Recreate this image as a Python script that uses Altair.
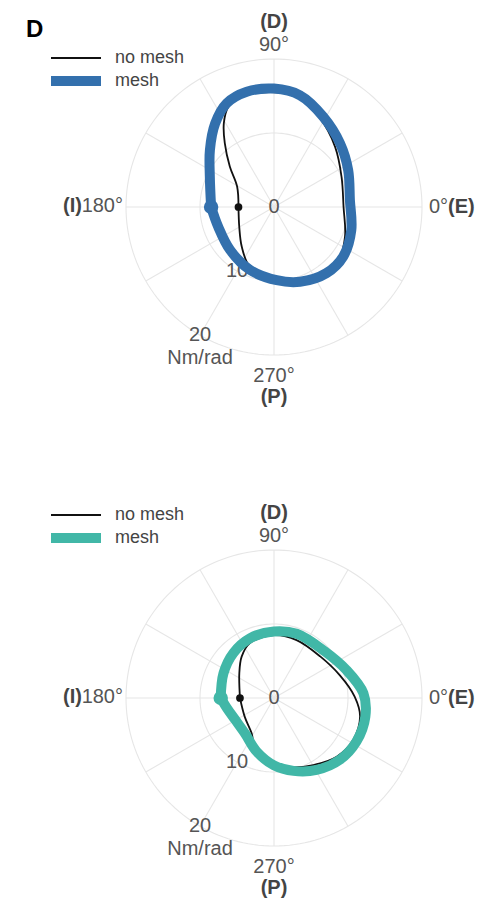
import altair as alt
import pandas as pd

# Ankle stiffness loops: angle (deg, counter-clockwise from E) and stiffness (Nm/rad)
TOP_NOMESH_DEG = [180, 151, 137.5, 127.6, 120.9, 114.5, 107, 98.6, 88.7, 78.4, 62.6, 44.7,
                  24.1, 0, -22.7, -39.5, -57, -77.4, -96.2, -113, -129.2, -150.4]
TOP_NOMESH_K = [4.8, 5.7, 8.1, 10.9, 13.2, 14.9, 15.7, 15.6, 15.5, 15.2, 13.5, 11.6,
                10.0, 9.4, 10.4, 11.3, 10.9, 10.0, 9.3, 8.6, 6.9, 5.4]
TOP_MESH_DEG = [180, 154.6, 138.3, 125.2, 114.5, 103.3, 90, 76.9, 61.4, 44, 26.5, 5.3,
                -16.6, -35.6, -51.6, -70.8, -87.9, -110.9, -135.7, -160.5]
TOP_MESH_K = [8.5, 9.6, 11.6, 13.8, 15.4, 16.0, 16.0, 15.5, 13.9, 12.4, 11.2, 10.3,
              10.9, 11.5, 11.4, 10.7, 9.9, 9.1, 8.3, 8.0]

BOT_NOMESH_DEG = [180, 144.6, 128, 113.7, 90, 68.7, 42, 19.2, 1, -12.2, -27.9, -43.1,
                  -59.6, -76.9, -93.6, -110, -122.3, -147.2]
BOT_NOMESH_K = [4.6, 5.75, 7.1, 8.1, 8.5, 8.4, 8.4, 9.4, 10.9, 11.9, 12.1, 11.6,
                10.5, 9.6, 8.7, 7.4, 5.65, 4.7]
BOT_MESH_DEG = [180, 154, 132, 112, 90, 70.5, 43, 21, 3, -11.6, -27.8, -43.2,
                -59.4, -75, -90, -108, -129, -150, -167.7]
BOT_MESH_K = [7.2, 7.6, 8.2, 8.7, 9.0, 9.2, 9.3, 10.5, 12.1, 12.6, 12.6, 12.2,
              11.3, 10.2, 9.1, 7.6, 6.2, 6.0, 6.5]

SERIES = ["no mesh", "mesh"]
TOP_COLORS = ["#111111", "#3370ad"]
BOT_COLORS = ["#111111", "#41b7a7"]

RING_VALUES = [10, 20]
RING_LABELS = ["0", "10", "20"]
RING_LABEL_R = [0, 10, 20]
SPOKE_DEG = list(range(0, 360, 30))
R_MAX = 20

# layout (pixels)
PX = 7.4          # pixels per Nm/rad
W = 500
CX = 274
TOP_H, TOP_CY = 425, 207
BOT_H, BOT_CY = 482, 273

FONT = "Liberation Sans"
GREY = "#555555"
DARK = "#444444"

XY = {"x": "datum.k * cos(datum.deg * PI / 180)",
      "y": "datum.k * sin(datum.deg * PI / 180)"}


def loop_frame(nm_deg, nm_k, m_deg, m_k):
    rows = []
    for name, deg, k in (("no mesh", nm_deg, nm_k), ("mesh", m_deg, m_k)):
        pts = [{"series": name, "i": i, "deg": d, "k": v}
               for i, (d, v) in enumerate(zip(deg, k))]
        pts.append({**pts[0], "i": len(pts)})  # close the loop
        rows += pts
    return pd.DataFrame(rows)


ring_df = pd.DataFrame([{"ring": r, "deg": d, "k": r}
                        for r in RING_VALUES for d in range(0, 361, 2)])
spoke_df = pd.DataFrame({"deg": SPOKE_DEG, "k": [R_MAX] * len(SPOKE_DEG)})
rlab_df = pd.DataFrame({"label": RING_LABELS, "k": RING_LABEL_R,
                        "deg": [240] * len(RING_LABELS)})


def panel(nm_deg, nm_k, m_deg, m_k, colors, height, cy, legend_y, tag=None):
    xs = alt.Scale(domain=[-CX / PX, (W - CX) / PX], nice=False, zero=False)
    ys = alt.Scale(domain=[-(height - cy) / PX, cy / PX], nice=False, zero=False)
    X = lambda f: alt.X(f, scale=xs, axis=None)
    Y = lambda f: alt.Y(f, scale=ys, axis=None)

    rings = alt.Chart(ring_df).transform_calculate(**XY).mark_line(
        color="#e6e6e6", strokeWidth=1.1
    ).encode(x=X("x:Q"), y=Y("y:Q"), detail="ring:N", order="deg:Q")

    spokes = alt.Chart(spoke_df).transform_calculate(
        x0="0", y0="0", **XY
    ).mark_rule(color="#e6e6e6", strokeWidth=1.1).encode(
        x=X("x0:Q"), y=Y("y0:Q"), x2="x:Q", y2="y:Q")

    rlabels = alt.Chart(rlab_df).transform_calculate(**XY).mark_text(
        font=FONT, fontSize=20, color=GREY, baseline="middle"
    ).encode(x=X("x:Q"), y=Y("y:Q"), text="label:N")

    unit = alt.Chart(rlab_df.iloc[[2]].assign(u="Nm/rad")).transform_calculate(**XY).mark_text(
        font=FONT, fontSize=20, color=GREY, baseline="middle", dy=23
    ).encode(x=X("x:Q"), y=Y("y:Q"), text="u:N")

    def dir_label(deg, text, bold, align, dx, dy):
        df = pd.DataFrame({"deg": [deg], "k": [R_MAX], "t": [text]})
        return alt.Chart(df).transform_calculate(**XY).mark_text(
            font=FONT, fontSize=20, color=DARK if bold else GREY,
            fontWeight="bold" if bold else "normal",
            align=align, baseline="middle", dx=dx, dy=dy
        ).encode(x=X("x:Q"), y=Y("y:Q"), text="t:N")

    dirs = [
        dir_label(0, "0°", False, "left", 7, 0),
        dir_label(0, "(E)", True, "left", 26, 0),
        dir_label(180, "180°", False, "right", -3, -1),
        dir_label(180, "(I)", True, "right", -44, -1),
        dir_label(90, "90°", False, "center", 0, -14),
        dir_label(90, "(D)", True, "center", 0, -37),
        dir_label(270, "270°", False, "center", 0, 21),
        dir_label(270, "(P)", True, "center", 0, 42),
    ]

    loops = loop_frame(nm_deg, nm_k, m_deg, m_k)
    legend = alt.Legend(
        title=None, orient="none", legendX=66, legendY=legend_y,
        symbolType="M-5,0H5", symbolSize=100, labelFont=FONT, labelFontSize=18,
        labelColor=DARK, labelOffset=29, rowPadding=-6, padding=0,
    )
    enc = dict(
        x=X("x:Q"), y=Y("y:Q"), order="i:Q",
        color=alt.Color("series:N", scale=alt.Scale(domain=SERIES, range=colors),
                        legend=legend),
        strokeWidth=alt.StrokeWidth("series:N",
                                    scale=alt.Scale(domain=SERIES, range=[1.8, 10]),
                                    legend=legend),
    )
    base = alt.Chart(loops).transform_calculate(**XY)
    line_nm = base.transform_filter("datum.series == 'no mesh'").mark_line(
        interpolate="catmull-rom", strokeJoin="round", strokeCap="round").encode(**enc)
    line_m = base.transform_filter("datum.series == 'mesh'").mark_line(
        interpolate="catmull-rom", strokeJoin="round", strokeCap="round").encode(**enc)

    dot_m = base.transform_filter("datum.series == 'mesh' && datum.i == 0").mark_circle(
        color=colors[1], opacity=1, size=210).encode(x=X("x:Q"), y=Y("y:Q"))
    dot_nm = base.transform_filter("datum.series == 'no mesh' && datum.i == 0").mark_circle(
        color=colors[0], opacity=1, size=60).encode(x=X("x:Q"), y=Y("y:Q"))

    layers = [rings, spokes, rlabels, unit, *dirs, line_nm, line_m, dot_m, dot_nm]
    if tag:
        layers.append(
            alt.Chart(pd.DataFrame({"t": [tag]})).mark_text(
                font=FONT, fontSize=24, fontWeight="bold", color="#000000",
                align="left", baseline="alphabetic"
            ).encode(text="t:N", x=alt.value(26), y=alt.value(37))
        )
    return alt.layer(*layers).properties(width=W, height=height)


top = panel(TOP_NOMESH_DEG, TOP_NOMESH_K, TOP_MESH_DEG, TOP_MESH_K,
            TOP_COLORS, TOP_H, TOP_CY, 49, tag="D")
bottom = panel(BOT_NOMESH_DEG, BOT_NOMESH_K, BOT_MESH_DEG, BOT_MESH_K,
               BOT_COLORS, BOT_H, BOT_CY, 81)

chart = alt.vconcat(top, bottom, spacing=0, padding=0).resolve_scale(
    color="independent", strokeWidth="independent"
).configure(font=FONT, background="white").configure_view(stroke=None)

chart.save("out.html", embed_options={"renderer": "svg", "actions": False})
